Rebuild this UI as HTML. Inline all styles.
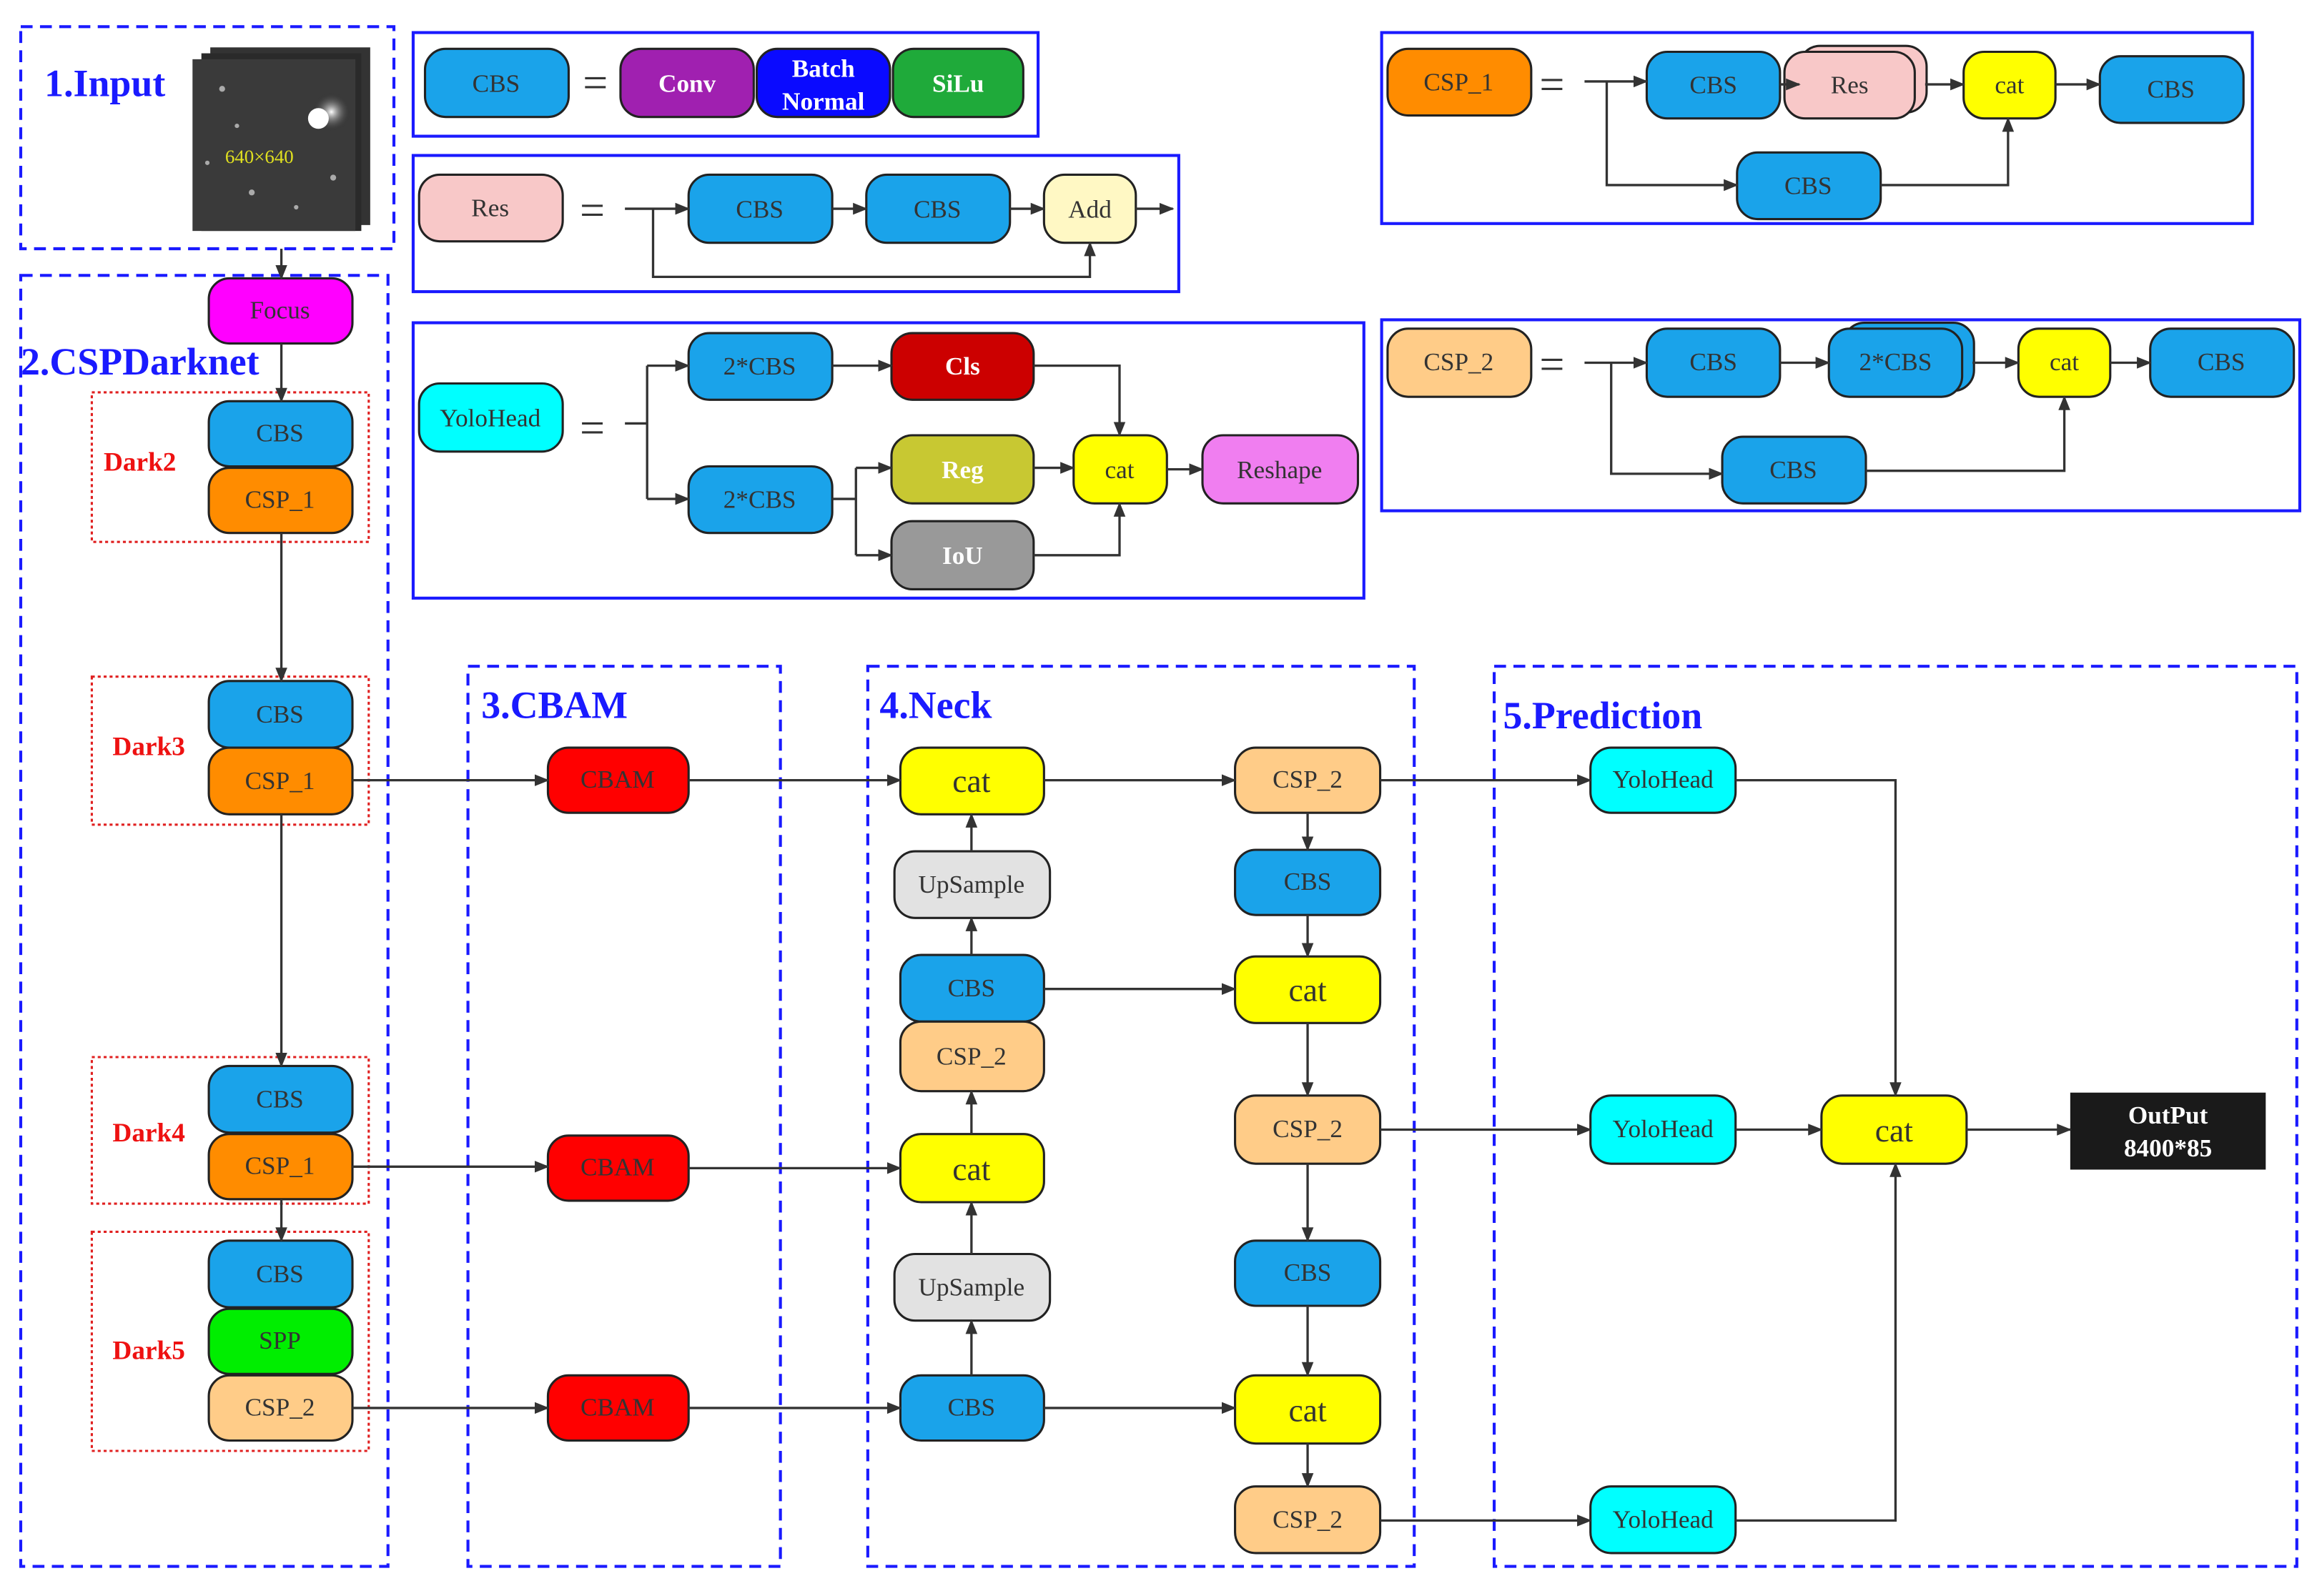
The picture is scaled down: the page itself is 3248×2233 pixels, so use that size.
<!DOCTYPE html>
<html><head><meta charset="utf-8"><style>
html,body{margin:0;padding:0;background:#fff;}
svg{display:block;}
text{font-family:"Liberation Serif",serif;}
</style></head><body>
<svg width="3248" height="2233" viewBox="0 0 1568 1078" xmlns="http://www.w3.org/2000/svg">
<defs>
<marker id="a" markerWidth="10" markerHeight="10" refX="9" refY="5" orient="auto" markerUnits="userSpaceOnUse"><path d="M0,1 L10,5 L0,9 z" fill="#333"/></marker>
<radialGradient id="g" cx="0.7" cy="0.4" r="0.3"><stop offset="0" stop-color="#fff"/><stop offset="1" stop-color="#222" stop-opacity="0"/></radialGradient>
</defs>
<rect width="1568" height="1078" fill="#fff"/>
<g fill="none" stroke="#1a1aff" stroke-width="2" stroke-dasharray="8,5">
<rect x="14" y="18" width="252" height="150"/>
<rect x="14" y="186" width="248" height="872"/>
<rect x="316" y="450" width="211" height="608"/>
<rect x="586" y="450" width="369" height="608"/>
<rect x="1009" y="450" width="542" height="608"/>
</g>
<g fill="none" stroke="#1a1aff" stroke-width="2">
<rect x="279" y="22" width="422" height="70"/>
<rect x="279" y="105" width="517" height="92"/>
<rect x="279" y="218" width="642" height="186"/>
<rect x="933" y="22" width="588" height="129"/>
<rect x="933" y="216" width="620" height="129"/>
</g>
<g fill="none" stroke="#e02020" stroke-width="1.5" stroke-dasharray="2,2">
<rect x="62" y="265" width="187" height="101"/>
<rect x="62" y="457" width="187" height="100"/>
<rect x="62" y="714" width="187" height="99"/>
<rect x="62" y="832" width="187" height="148"/>
</g>
<g font-weight="bold" fill="#1a1aff" font-size="26">
<text x="30" y="65">1.Input</text>
<text x="14" y="253">2.CSPDarknet</text>
<text x="325" y="485">3.CBAM</text>
<text x="594" y="485">4.Neck</text>
<text x="1015" y="492">5.Prediction</text>
</g>
<g font-weight="bold" fill="#ee1111" font-size="18">
<text x="70" y="318">Dark2</text>
<text x="76" y="510">Dark3</text>
<text x="76" y="771">Dark4</text>
<text x="76" y="918">Dark5</text>
</g>
<!-- input image -->
<rect x="142" y="32" width="108" height="120" fill="#333"/>
<rect x="136" y="36" width="108" height="120" fill="#2a2a2a"/>
<rect x="130" y="40" width="110" height="116" fill="#3a3a3a"/>
<circle cx="215" cy="80" r="22" fill="url(#g)"/>
<circle cx="215" cy="80" r="7" fill="#fff"/>
<g fill="#aaa"><circle cx="150" cy="60" r="2"/><circle cx="170" cy="130" r="2"/><circle cx="200" cy="140" r="1.5"/><circle cx="140" cy="110" r="1.5"/><circle cx="225" cy="120" r="2"/><circle cx="160" cy="85" r="1.5"/></g>
<text x="152" y="110" fill="#e0e020" font-size="13">640×640</text>
<!-- nodes -->
<g stroke="#222" stroke-width="1.5">
<!-- legend -->
<rect x="287" y="33" width="97" height="46" rx="14" fill="#1aa3ea"/>
<rect x="419" y="33" width="90" height="46" rx="14" fill="#a020b0"/>
<rect x="511" y="33" width="90" height="46" rx="14" fill="#0a0aff"/>
<rect x="603" y="33" width="88" height="46" rx="14" fill="#1faa3a"/>
<rect x="283" y="118" width="97" height="45" rx="14" fill="#f8c8c8"/>
<rect x="465" y="118" width="97" height="46" rx="14" fill="#1aa3ea"/>
<rect x="585" y="118" width="97" height="46" rx="14" fill="#1aa3ea"/>
<rect x="705" y="118" width="62" height="46" rx="14" fill="#fff8c4"/>
<rect x="283" y="259" width="97" height="46" rx="14" fill="#00ffff"/>
<rect x="465" y="225" width="97" height="45" rx="14" fill="#1aa3ea"/>
<rect x="465" y="315" width="97" height="45" rx="14" fill="#1aa3ea"/>
<rect x="602" y="225" width="96" height="45" rx="14" fill="#cc0000"/>
<rect x="602" y="294" width="96" height="46" rx="14" fill="#c8c832"/>
<rect x="602" y="352" width="96" height="46" rx="14" fill="#999"/>
<rect x="725" y="294" width="63" height="46" rx="14" fill="#ffff00"/>
<rect x="812" y="294" width="105" height="46" rx="14" fill="#f07ef0"/>
<rect x="937" y="33" width="97" height="45" rx="14" fill="#ff8c00"/>
<rect x="1112" y="35" width="90" height="45" rx="14" fill="#1aa3ea"/>
<rect x="1215" y="31" width="86" height="45" rx="14" fill="#f8c8c8"/>
<rect x="1205" y="35" width="88" height="45" rx="14" fill="#f8c8c8"/>
<rect x="1326" y="35" width="62" height="45" rx="14" fill="#ffff00"/>
<rect x="1418" y="38" width="97" height="45" rx="14" fill="#1aa3ea"/>
<rect x="1173" y="103" width="97" height="45" rx="14" fill="#1aa3ea"/>
<rect x="937" y="222" width="97" height="46" rx="14" fill="#ffcc88"/>
<rect x="1112" y="222" width="90" height="46" rx="14" fill="#1aa3ea"/>
<rect x="1245" y="218" width="88" height="46" rx="14" fill="#1aa3ea"/>
<rect x="1235" y="222" width="90" height="46" rx="14" fill="#1aa3ea"/>
<rect x="1363" y="222" width="62" height="46" rx="14" fill="#ffff00"/>
<rect x="1452" y="222" width="97" height="46" rx="14" fill="#1aa3ea"/>
<rect x="1163" y="295" width="97" height="45" rx="14" fill="#1aa3ea"/>
<!-- backbone -->
<rect x="141" y="188" width="97" height="44" rx="14" fill="#ff00ff"/>
<rect x="141" y="271" width="97" height="44" rx="14" fill="#1aa3ea"/>
<rect x="141" y="316" width="97" height="44" rx="14" fill="#ff8c00"/>
<rect x="141" y="460" width="97" height="45" rx="14" fill="#1aa3ea"/>
<rect x="141" y="505" width="97" height="45" rx="14" fill="#ff8c00"/>
<rect x="141" y="720" width="97" height="45" rx="14" fill="#1aa3ea"/>
<rect x="141" y="766" width="97" height="44" rx="14" fill="#ff8c00"/>
<rect x="141" y="838" width="97" height="45" rx="14" fill="#1aa3ea"/>
<rect x="141" y="884" width="97" height="44" rx="14" fill="#00ee00"/>
<rect x="141" y="929" width="97" height="44" rx="14" fill="#ffcc88"/>
<!-- CBAM -->
<rect x="370" y="505" width="95" height="44" rx="14" fill="#ff0000"/>
<rect x="370" y="767" width="95" height="44" rx="14" fill="#ff0000"/>
<rect x="370" y="929" width="95" height="44" rx="14" fill="#ff0000"/>
<!-- neck left -->
<rect x="608" y="505" width="97" height="45" rx="14" fill="#ffff00"/>
<rect x="604" y="575" width="105" height="45" rx="14" fill="#e2e2e2"/>
<rect x="608" y="645" width="97" height="45" rx="14" fill="#1aa3ea"/>
<rect x="608" y="690" width="97" height="47" rx="14" fill="#ffcc88"/>
<rect x="608" y="766" width="97" height="46" rx="14" fill="#ffff00"/>
<rect x="604" y="847" width="105" height="45" rx="14" fill="#e2e2e2"/>
<rect x="608" y="929" width="97" height="44" rx="14" fill="#1aa3ea"/>
<!-- neck right -->
<rect x="834" y="505" width="98" height="44" rx="14" fill="#ffcc88"/>
<rect x="834" y="574" width="98" height="44" rx="14" fill="#1aa3ea"/>
<rect x="834" y="646" width="98" height="45" rx="14" fill="#ffff00"/>
<rect x="834" y="740" width="98" height="46" rx="14" fill="#ffcc88"/>
<rect x="834" y="838" width="98" height="44" rx="14" fill="#1aa3ea"/>
<rect x="834" y="929" width="98" height="46" rx="14" fill="#ffff00"/>
<rect x="834" y="1004" width="98" height="45" rx="14" fill="#ffcc88"/>
<!-- prediction -->
<rect x="1074" y="505" width="98" height="44" rx="14" fill="#00ffff"/>
<rect x="1074" y="740" width="98" height="46" rx="14" fill="#00ffff"/>
<rect x="1074" y="1004" width="98" height="45" rx="14" fill="#00ffff"/>
<rect x="1230" y="740" width="98" height="46" rx="14" fill="#ffff00"/>
</g>
<rect x="1398" y="738" width="132" height="52" fill="#1a1a1a"/>
<!-- labels -->
<g font-size="17" text-anchor="middle" fill="#333">
<text x="335" y="62">CBS</text>
<text x="331" y="146">Res</text>
<text x="513" y="147">CBS</text>
<text x="633" y="147">CBS</text>
<text x="736" y="147">Add</text>
<text x="331" y="288">YoloHead</text>
<text x="513" y="253">2*CBS</text>
<text x="513" y="343">2*CBS</text>
<text x="756" y="323">cat</text>
<text x="864" y="323">Reshape</text>
<text x="985" y="61">CSP_1</text>
<text x="1157" y="63">CBS</text>
<text x="1249" y="63">Res</text>
<text x="1357" y="63">cat</text>
<text x="1466" y="66">CBS</text>
<text x="1221" y="131">CBS</text>
<text x="985" y="250">CSP_2</text>
<text x="1157" y="250">CBS</text>
<text x="1280" y="250">2*CBS</text>
<text x="1394" y="250">cat</text>
<text x="1500" y="250">CBS</text>
<text x="1211" y="323">CBS</text>
<text x="189" y="215">Focus</text>
<text x="189" y="298">CBS</text>
<text x="189" y="343">CSP_1</text>
<text x="189" y="488">CBS</text>
<text x="189" y="533">CSP_1</text>
<text x="189" y="748">CBS</text>
<text x="189" y="793">CSP_1</text>
<text x="189" y="866">CBS</text>
<text x="189" y="911">SPP</text>
<text x="189" y="956">CSP_2</text>
<text x="417" y="532">CBAM</text>
<text x="417" y="794">CBAM</text>
<text x="417" y="956">CBAM</text>
<text x="656" y="603">UpSample</text>
<text x="656" y="673">CBS</text>
<text x="656" y="719">CSP_2</text>
<text x="656" y="875">UpSample</text>
<text x="656" y="956">CBS</text>
<text x="883" y="532">CSP_2</text>
<text x="883" y="601">CBS</text>
<text x="883" y="768">CSP_2</text>
<text x="883" y="865">CBS</text>
<text x="883" y="1032">CSP_2</text>
<text x="1123" y="532">YoloHead</text>
<text x="1123" y="768">YoloHead</text>
<text x="1123" y="1032">YoloHead</text>
</g>
<g font-size="22" text-anchor="middle" fill="#333">
<text x="656" y="535">cat</text>
<text x="656" y="797">cat</text>
<text x="883" y="676">cat</text>
<text x="883" y="960">cat</text>
<text x="1279" y="771">cat</text>
</g>
<g font-size="17" text-anchor="middle" fill="#fff" font-weight="bold">
<text x="464" y="62">Conv</text>
<text x="556" y="52">Batch</text>
<text x="556" y="74">Normal</text>
<text x="647" y="62">SiLu</text>
<text x="650" y="253">Cls</text>
<text x="650" y="323">Reg</text>
<text x="650" y="381">IoU</text>
<text x="1464" y="759">OutPut</text>
<text x="1464" y="781">8400*85</text>
</g>
<g font-size="30" fill="#333" text-anchor="middle">
<text x="402" y="66">=</text><text x="400" y="152">=</text><text x="400" y="299">=</text>
<text x="1048" y="67">=</text><text x="1048" y="256">=</text>
</g>
<!-- connectors -->
<g stroke="#333" stroke-width="1.6" fill="none" marker-end="url(#a)">
<path d="M422,141 H465"/><path d="M562,141 H585"/><path d="M682,141 H705"/><path d="M767,141 H792"/>
<path d="M441,141 V187 H736 V164"/>
<path d="M437,247 H465"/><path d="M437,337 H465"/>
<path d="M562,247 H602"/><path d="M698,247 H756 V294"/>
<path d="M578,316 H602"/><path d="M578,375 H602"/>
<path d="M698,316 H725"/><path d="M698,375 H756 V340"/><path d="M788,317 H812"/>
<path d="M1070,55 H1112"/><path d="M1085,55 V125 H1173"/><path d="M1202,57 H1215"/>
<path d="M1300,57 H1326"/><path d="M1388,57 H1418"/><path d="M1270,125 H1356 V80"/>
<path d="M1070,245 H1112"/><path d="M1088,245 V320 H1163"/><path d="M1202,245 H1235"/>
<path d="M1332,245 H1363"/><path d="M1425,245 H1452"/><path d="M1260,318 H1394 V268"/>
<path d="M190,168 V188"/><path d="M190,232 V271"/><path d="M190,360 V460"/>
<path d="M190,550 V720"/><path d="M190,810 V838"/>
<path d="M238,527 H370"/><path d="M465,527 H608"/>
<path d="M238,788 H370"/><path d="M465,789 H608"/>
<path d="M238,951 H370"/><path d="M465,951 H608"/>
<path d="M656,929 V892"/><path d="M656,847 V812"/><path d="M656,766 V737"/>
<path d="M656,645 V620"/><path d="M656,575 V550"/>
<path d="M705,527 H834"/><path d="M705,668 H834"/><path d="M705,951 H834"/>
<path d="M883,549 V574"/><path d="M883,618 V646"/><path d="M883,691 V740"/>
<path d="M883,786 V838"/><path d="M883,882 V929"/><path d="M883,975 V1004"/>
<path d="M932,527 H1074"/><path d="M932,763 H1074"/><path d="M932,1027 H1074"/>
<path d="M1172,527 H1280 V740"/><path d="M1172,763 H1230"/><path d="M1172,1027 H1280 V786"/>
<path d="M1328,763 H1398"/>
</g>
<g stroke="#333" stroke-width="1.6" fill="none">
<path d="M422,286 H437 V337 M437,247 V286"/><path d="M562,337 H578 V375 M578,316 V337"/>
</g>
</svg>
</body></html>
